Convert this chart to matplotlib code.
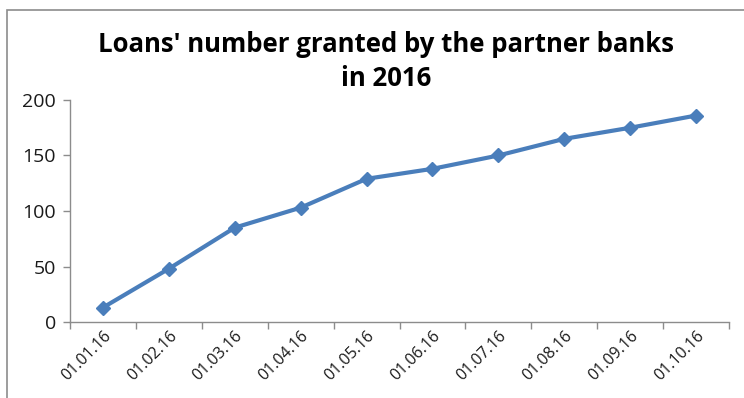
import matplotlib.pyplot as plt
from matplotlib.patches import Rectangle

dates = ["01.01.16", "01.02.16", "01.03.16", "01.04.16", "01.05.16",
         "01.06.16", "01.07.16", "01.08.16", "01.09.16", "01.10.16"]
loans = [13, 48, 85, 103, 129, 138, 150, 165, 175, 186]

plt.rcParams["font.family"] = ["Open Sans", "DejaVu Sans"]

fig = plt.figure(figsize=(7.44, 3.98), dpi=100)
ax = fig.add_axes([70 / 744, 76 / 398, 659 / 744, 222 / 398])

# chart frame (only left and top edges fall inside the image)
fig.patches.append(Rectangle((7 / 744, -0.1), 1.2, 1.1 - 10 / 398,
                             transform=fig.transFigure, fill=False,
                             edgecolor="#8c8c8c", linewidth=1.2))

x = list(range(len(dates)))
ax.plot(x, loans, color="#4a7ebb", linewidth=3, marker="D", markersize=7,
        solid_joinstyle="round")

ax.set_xlim(-0.5, len(dates) - 0.5)
ax.set_ylim(0, 200)
ax.set_yticks([0, 50, 100, 150, 200])
ax.set_xticks([i - 0.5 for i in range(len(dates) + 1)], minor=False)
ax.set_xticklabels([])
ax.set_xticks(x, minor=True)
ax.set_xticklabels(dates, minor=True, rotation=45, ha="right",
                   rotation_mode="anchor", fontsize=11.5, color="#1a1a1a")
ax.tick_params(axis="x", which="minor", length=0, pad=4)
ax.tick_params(axis="x", which="major", length=5, color="#8c8c8c",
               width=1)
ax.tick_params(axis="y", length=5, color="#8c8c8c", width=1,
               labelsize=14, labelcolor="#1a1a1a", pad=5)

for side in ["top", "right"]:
    ax.spines[side].set_visible(False)
for side in ["left", "bottom"]:
    ax.spines[side].set_color("#8c8c8c")
    ax.spines[side].set_linewidth(1)

fig.text(0.519, 0.846, "Loans' number granted by the partner banks\nin 2016",
         ha="center", va="center", fontsize=18.5, fontweight="bold",
         linespacing=1.32)

fig.savefig("out.png", dpi=100)
